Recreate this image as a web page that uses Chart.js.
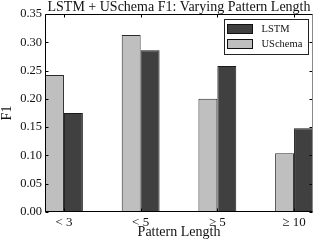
<!DOCTYPE html>
<html>
<head>
<meta charset="utf-8">
<script src="https://cdn.jsdelivr.net/npm/chart.js@4/dist/chart.umd.min.js"></script>
<style>
  html, body { margin: 0; padding: 0; background: #fff; }
  #wrap { width: 319px; height: 246px; }
</style>
</head>
<body>
<div id="wrap"><canvas id="chart"></canvas></div>
<script>
const categories = ['< 3', '< 5', '\u2265 5', '\u2265 10'];
const uschema = [0.242, 0.313, 0.200, 0.104];
const lstm = [0.175, 0.286, 0.258, 0.148];
const yTicks = [0, 0.05, 0.10, 0.15, 0.20, 0.25, 0.30, 0.35];

const FONT = "'Liberation Serif', 'DejaVu Serif', serif";

const toPoints = (vals) => vals.map((v, i) => ({ x: i, y: v }));

// inward ticks, frame and in-plot legend, matplotlib style
const framePlugin = {
  id: 'frame',
  afterDatasetsDraw(chart) {
    const { ctx, chartArea: a, scales } = chart;
    const L = Math.round(a.left) + 0.5, R = Math.round(a.right) - 0.5;
    const T = Math.round(a.top) + 0.5, B = Math.round(a.bottom) - 0.5;
    ctx.save();
    ctx.lineWidth = 1;
    ctx.strokeStyle = '#000';
    ctx.beginPath();
    yTicks.forEach(v => {
      const y = Math.round(scales.y.getPixelForValue(v)) + 0.5;
      ctx.moveTo(L, y); ctx.lineTo(L + 3, y);
      ctx.moveTo(R, y); ctx.lineTo(R - 3, y);
    });
    categories.forEach((c, i) => {
      const x = Math.round(scales.x.getPixelForValue(i)) + 0.5;
      ctx.moveTo(x, B); ctx.lineTo(x, B - 3);
      ctx.moveTo(x, T); ctx.lineTo(x, T + 3);
    });
    ctx.stroke();
    ctx.beginPath();
    ctx.moveTo(L, T); ctx.lineTo(L, B); ctx.lineTo(R, B);
    ctx.moveTo(L, T); ctx.lineTo(R, T);
    ctx.stroke();
    ctx.strokeStyle = '#8a8a8a';
    ctx.beginPath();
    ctx.moveTo(R, T); ctx.lineTo(R, B);
    ctx.stroke();

    // legend box
    const bx = R - 88, by = T + 5, bw = 84, bh = 35;
    ctx.fillStyle = '#fff';
    ctx.fillRect(bx, by, bw, bh);
    ctx.strokeStyle = '#222';
    ctx.strokeRect(bx, by, bw, bh);
    const items = [chart.data.datasets[1], chart.data.datasets[0]];
    ctx.font = '10.5px ' + FONT;
    ctx.textBaseline = 'middle';
    items.forEach((ds, k) => {
      const sy = by + 5 + k * 15;
      ctx.fillStyle = ds.backgroundColor;
      ctx.fillRect(bx + 3, sy, 25, 9);
      ctx.strokeStyle = '#111';
      ctx.strokeRect(bx + 3, sy, 25, 9);
      ctx.fillStyle = '#111';
      ctx.fillText(ds.label, bx + 37, sy + 5);
    });
    ctx.restore();
  }
};

new Chart(document.getElementById('chart'), {
  type: 'bar',
  data: {
    datasets: [
      {
        label: 'USchema',
        data: toPoints(uschema),
        backgroundColor: '#bfbfbf',
        borderColor: '#2a2a2a',
        borderWidth: 1,
        categoryPercentage: 38 / 77,
        barPercentage: 1
      },
      {
        label: 'LSTM',
        data: toPoints(lstm),
        backgroundColor: '#404040',
        borderColor: '#1a1a1a',
        borderWidth: 1,
        categoryPercentage: 38 / 77,
        barPercentage: 1
      }
    ]
  },
  options: {
    responsive: true,
    maintainAspectRatio: false,
    animation: false,
    layout: { padding: { left: 0, right: 6, top: 0, bottom: 0 } },
    scales: {
      x: {
        type: 'linear',
        offset: false,
        min: -0.247,
        max: 3.247,
        grid: { display: false, drawTicks: false, offset: false },
        border: { display: false },
        afterBuildTicks: (s) => { s.ticks = categories.map((c, i) => ({ value: i })); },
        afterFit: (s) => { s.height = 34; },
        ticks: {
          padding: 3,
          color: '#111',
          font: { family: FONT, size: 13 },
          callback: (v) => categories[v]
        },
        title: {
          display: true,
          text: 'Pattern Length',
          color: '#111',
          font: { family: FONT, size: 14 },
          padding: { top: 0, bottom: 5 }
        }
      },
      y: {
        min: 0,
        max: 0.35,
        grid: { display: false, drawTicks: false },
        border: { display: false },
        afterBuildTicks: (s) => { s.ticks = yTicks.map(v => ({ value: v })); },
        afterFit: (s) => { s.width = 45; },
        ticks: {
          padding: 3,
          color: '#111',
          font: { family: FONT, size: 12.5 },
          callback: (v) => v.toFixed(2)
        },
        title: {
          display: true,
          text: 'F1',
          color: '#111',
          font: { family: FONT, size: 14, lineHeight: 1 },
          padding: { top: 0, bottom: 0 }
        }
      }
    },
    plugins: {
      legend: { display: false },
      tooltip: { enabled: false },
      title: {
        display: true,
        fullSize: false,
        text: 'LSTM + USchema F1: Varying Pattern Length',
        color: '#111',
        font: { family: FONT, size: 14, weight: 'normal', lineHeight: 12 / 14 },
        padding: { top: 1, bottom: 1 }
      }
    }
  },
  plugins: [framePlugin]
});
</script>
</body>
</html>
